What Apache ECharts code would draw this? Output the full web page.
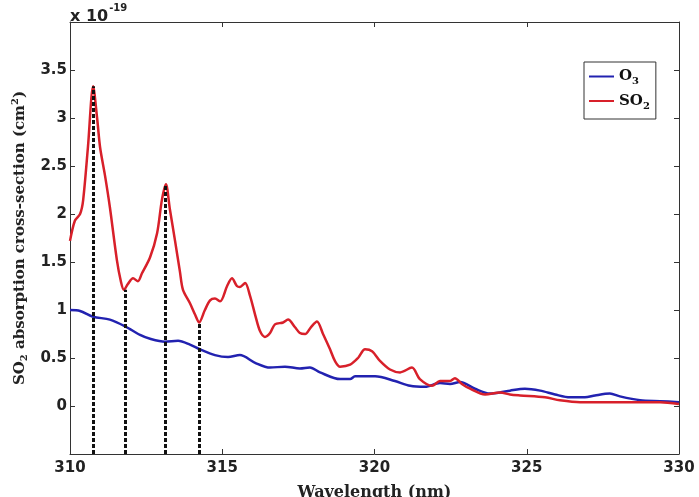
<!DOCTYPE html>
<html>
<head>
<meta charset="utf-8">
<script src="https://cdn.jsdelivr.net/npm/echarts@6/dist/echarts.min.js"></script>
<style>
  html, body { margin: 0; padding: 0; background: #fff; }
  #main { width: 699px; height: 497px; }
</style>
</head>
<body>
<div id="main"></div>
<script>
// wavelength (nm) / cross-section (x 1e-19 cm^2)
const so2 = [
  [310.00, 1.72], [310.16, 1.93], [310.33, 2.00], [310.43, 2.14], [310.59, 2.70],
  [310.76, 3.33], [310.89, 3.00], [310.99, 2.69], [311.15, 2.40], [311.31, 2.07],
  [311.54, 1.52], [311.67, 1.30], [311.77, 1.21], [311.90, 1.27], [312.07, 1.33],
  [312.23, 1.30], [312.36, 1.38], [312.63, 1.55], [312.86, 1.80], [313.02, 2.15],
  [313.15, 2.31], [313.28, 2.05], [313.45, 1.72], [313.61, 1.40], [313.71, 1.21],
  [313.94, 1.07], [314.11, 0.95], [314.24, 0.87], [314.43, 1.00], [314.60, 1.10],
  [314.76, 1.12], [314.93, 1.09], [315.16, 1.25], [315.32, 1.33], [315.48, 1.25],
  [315.58, 1.24], [315.75, 1.28], [315.91, 1.15], [316.08, 0.95], [316.24, 0.78],
  [316.40, 0.72], [316.57, 0.76], [316.73, 0.85], [317.00, 0.87], [317.16, 0.90],
  [317.39, 0.82], [317.55, 0.76], [317.72, 0.75], [317.91, 0.82], [318.11, 0.88],
  [318.31, 0.75], [318.54, 0.59], [318.70, 0.47], [318.87, 0.41], [319.20, 0.43],
  [319.46, 0.50], [319.69, 0.59], [319.92, 0.57], [320.18, 0.47], [320.51, 0.38],
  [320.84, 0.35], [321.23, 0.40], [321.49, 0.28], [321.89, 0.21], [322.15, 0.26],
  [322.48, 0.26], [322.64, 0.29], [322.87, 0.23], [323.14, 0.18], [323.63, 0.12],
  [324.12, 0.14], [324.45, 0.12], [324.78, 0.11], [325.60, 0.09], [326.09, 0.06],
  [326.75, 0.04], [328.06, 0.04], [329.38, 0.04], [330.00, 0.02]
];

const o3 = [
  [310.00, 1.00], [310.33, 0.99], [310.76, 0.93], [311.31, 0.90], [311.81, 0.83],
  [312.30, 0.74], [312.63, 0.70], [313.12, 0.67], [313.55, 0.68], [313.94, 0.64],
  [314.27, 0.59], [314.76, 0.53], [315.19, 0.51], [315.58, 0.53], [316.08, 0.45],
  [316.57, 0.40], [317.06, 0.41], [317.55, 0.39], [317.88, 0.40], [318.21, 0.35],
  [318.87, 0.28], [319.20, 0.28], [319.36, 0.31], [320.02, 0.31], [320.67, 0.26],
  [321.17, 0.21], [321.66, 0.20], [322.15, 0.24], [322.48, 0.23], [322.81, 0.25],
  [323.30, 0.18], [323.79, 0.13], [324.12, 0.14], [324.45, 0.16], [324.94, 0.18],
  [325.44, 0.16], [325.93, 0.12], [326.42, 0.09], [326.91, 0.09], [327.24, 0.11],
  [327.73, 0.13], [328.06, 0.10], [328.72, 0.06], [329.38, 0.05], [330.00, 0.04]
];

// dotted markers at the peaks / troughs of SO2
const markX = [310.77, 311.80, 313.14, 314.26];
const markTop = [3.33, 1.21, 2.31, 0.86];

const xTicks = [310, 315, 320, 325, 330];
const yTicks = [0, 0.5, 1, 1.5, 2, 2.5, 3, 3.5];

const yMin = -0.5, yMax = 4;

const sans = 'DejaVu Sans';
const serif = 'DejaVu Serif';
const tickFont = { fontFamily: sans, fontWeight: 'bold', fontSize: 15, color: '#222' };

const chart = echarts.init(document.getElementById('main'));

const dashLines = markX.map((x, i) => [
  { coord: [x, yMin] },
  { coord: [x, markTop[i]] }
]);

const boxLine = { show: true, onZero: false, lineStyle: { color: '#333', width: 1 } };
const inTick = { show: true, inside: true, length: 5, lineStyle: { color: '#333' } };

const option = {
  backgroundColor: '#fff',
  animation: false,
  grid: { left: 70, right: 20, top: 22, bottom: 43, outerBoundsMode: 'none', containLabel: false },
  legend: {
    orient: 'vertical',
    left: 584,
    top: 62,
    itemWidth: 25,
    itemHeight: 2,
    itemGap: 7,
    padding: [7, 6, 8, 5],
    backgroundColor: '#fff',
    borderColor: '#333',
    borderWidth: 1,
    borderRadius: 0,
    data: [{ name: 'O3', icon: 'rect' }, { name: 'SO2', icon: 'rect' }],
    formatter: name => '{m|' + name.slice(0, -1) + '}{s|' + name.slice(-1) + '}',
    textStyle: {
      rich: {
        m: { fontFamily: serif, fontWeight: 'bold', fontSize: 15, color: '#111' },
        s: { fontFamily: serif, fontWeight: 'bold', fontSize: 10, color: '#111', padding: [10, 0, 0, 0] }
      }
    }
  },
  xAxis: [
    {
      type: 'value', min: 310, max: 330, interval: 5,
      name: 'Wavelength (nm)', nameLocation: 'middle', nameGap: 31,
      nameTextStyle: { fontFamily: serif, fontWeight: 'bold', fontSize: 16, color: '#222' },
      axisLine: boxLine,
      axisTick: inTick,
      axisLabel: Object.assign({ margin: 7, formatter: v => xTicks.includes(v) ? String(v) : '' }, tickFont),
      splitLine: { show: false }
    },
    {
      type: 'value', position: 'top', min: 310, max: 330, interval: 5,
      axisLine: boxLine,
      axisTick: inTick,
      axisLabel: { show: false },
      splitLine: { show: false }
    }
  ],
  yAxis: [
    {
      type: 'value', min: yMin, max: yMax, interval: 0.5,
      name: '{t|SO}{sub|2}{t| absorption cross-section (cm}{sup|2}{t|)}',
      nameLocation: 'middle', nameRotate: 90, nameGap: 40,
      nameTextStyle: {
        rich: {
          t: { fontFamily: serif, fontWeight: 'bold', fontSize: 15, color: '#222' },
          sub: { fontFamily: serif, fontWeight: 'bold', fontSize: 10, color: '#222', padding: [9, 0, 0, 0] },
          sup: { fontFamily: serif, fontWeight: 'bold', fontSize: 10, color: '#222', padding: [0, 0, 9, 0] }
        }
      },
      axisLine: boxLine,
      axisTick: inTick,
      axisLabel: Object.assign({ margin: 3, formatter: v => yTicks.includes(v) ? String(v) : '' }, tickFont),
      splitLine: { show: false }
    },
    {
      type: 'value', position: 'right', min: yMin, max: yMax, interval: 0.5,
      axisLine: boxLine,
      axisTick: inTick,
      axisLabel: { show: false },
      splitLine: { show: false }
    }
  ],
  graphic: [
    {
      type: 'text', left: 70, top: 3,
      style: {
        text: '{b|x 10}{e|-19}',
        rich: {
          b: { fontFamily: sans, fontWeight: 'bold', fontSize: 16, fill: '#222' },
          e: { fontFamily: sans, fontWeight: 'bold', fontSize: 10, fill: '#222', padding: [0, 0, 18, 1] }
        }
      }
    }
  ],
  series: [
    {
      name: 'SO2', type: 'line', data: so2, smooth: 0.3, showSymbol: false, symbol: 'none',
      color: '#d8202a', lineStyle: { width: 2.5, color: '#d8202a' }, z: 3
    },
    {
      name: 'O3', type: 'line', data: o3, smooth: 0.3, showSymbol: false, symbol: 'none',
      color: '#2222b0', lineStyle: { width: 2.5, color: '#2222b0' }, z: 2
    },
    {
      name: 'marks', type: 'line', data: [], z: 4,
      markLine: {
        silent: true, symbol: 'none', label: { show: false },
        lineStyle: { color: '#111', width: 3, type: [4, 2] },
        data: dashLines
      }
    }
  ]
};

chart.setOption(option);
</script>
</body>
</html>
